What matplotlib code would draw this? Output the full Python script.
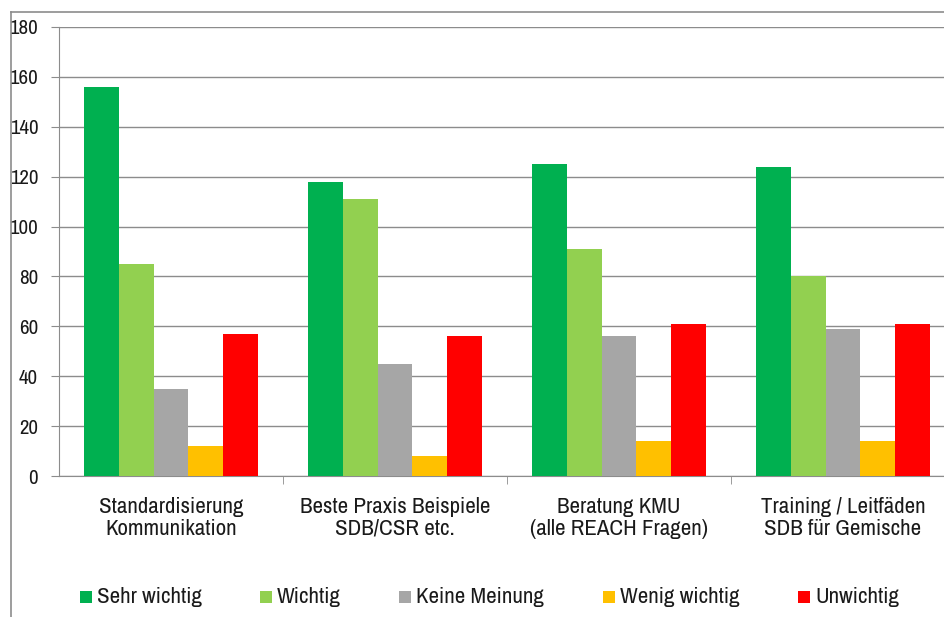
import matplotlib
matplotlib.use('Agg')
import matplotlib.pyplot as plt
import numpy as np
from matplotlib.patches import Rectangle
from matplotlib.lines import Line2D

categories = ['Standardisierung\nKommunikation',
              'Beste Praxis Beispiele\nSDB/CSR etc.',
              'Beratung KMU\n(alle REACH Fragen)',
              'Training / Leitfäden\nSDB für Gemische']
series = ['Sehr wichtig', 'Wichtig', 'Keine Meinung', 'Wenig wichtig', 'Unwichtig']
sehr_wichtig = [156, 118, 125, 124]
wichtig = [85, 111, 91, 80]
keine_meinung = [35, 45, 56, 59]
wenig_wichtig = [12, 8, 14, 14]
unwichtig = [57, 56, 61, 61]
colors = ['#00B050', '#92D050', '#A6A6A6', '#FFC000', '#FF0000']

plt.rcParams['font.family'] = ['Archivo Narrow', 'Liberation Sans', 'DejaVu Sans']
txt_col = '#1a1a1a'
grid_col = '#8C8C8C'

fig = plt.figure(figsize=(9.45, 6.17), dpi=100)
# plot area runs a bit past the right edge of the (cropped) chart
ax = fig.add_axes([59 / 945, 1 - 476 / 617, 896 / 945, 449 / 617])

values = [sehr_wichtig, wichtig, keine_meinung, wenig_wichtig, unwichtig]
x = np.arange(len(categories))
w = 0.1545
for i, (vals, c) in enumerate(zip(values, colors)):
    ax.bar(x + (i - 2) * w, vals, w, color=c, label=series[i], zorder=3)

ax.set_xlim(-0.5, len(categories) - 0.5)
ax.set_ylim(0, 180)
ax.set_yticks(range(0, 181, 20))
ax.yaxis.grid(True, color=grid_col, lw=1, zorder=0)
ax.set_xticks(x)
ax.set_xticklabels(categories, fontsize=16.5, color=txt_col, linespacing=1.12)
ax.set_xticks(np.arange(0.5, len(categories) - 0.5), minor=True)
ax.tick_params(axis='x', which='major', length=0, pad=15)
ax.tick_params(axis='x', which='minor', length=6, color=grid_col, direction='out')
ax.tick_params(axis='y', length=6, color=grid_col, labelsize=15, pad=9, labelcolor=txt_col)
for s in ['top', 'right']:
    ax.spines[s].set_visible(False)
ax.spines['left'].set_color(grid_col)
ax.spines['bottom'].set_color(grid_col)

# outer chart frame (left and top edges visible)
fig.add_artist(Line2D([11 / 945, 11 / 945], [0, 1 - 12 / 617], color=grid_col, lw=1.2))
fig.add_artist(Line2D([11 / 945, 1], [1 - 12 / 617, 1 - 12 / 617], color=grid_col, lw=1.2))

# legend
leg_x = [80, 260, 399, 603, 798]
leg_y = 597
for px, name, c in zip(leg_x, series, colors):
    fig.add_artist(Rectangle((px / 945, 1 - (leg_y + 6) / 617), 12 / 945, 12 / 617,
                             facecolor=c, edgecolor='none', transform=fig.transFigure))
    fig.text((px + 17) / 945, 1 - leg_y / 617, name, fontsize=16.5, color=txt_col,
             va='center', ha='left')

fig.savefig('out.png', dpi=100)
